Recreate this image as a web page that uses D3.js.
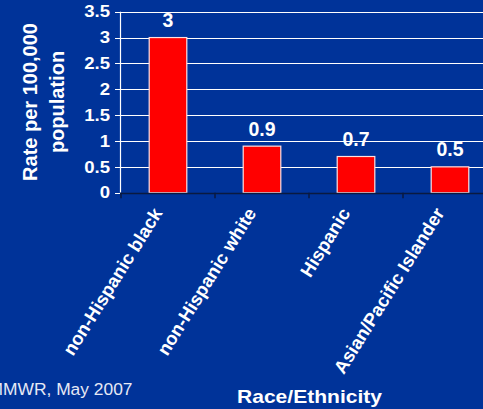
<!DOCTYPE html>
<html>
<head>
<meta charset="utf-8">
<script src="https://cdn.jsdelivr.net/npm/d3@7"></script>
<style>
html,body{margin:0;padding:0;background:#003399;overflow:hidden;}
svg{display:block;font-family:"Liberation Sans",Arial,sans-serif;}
</style>
</head>
<body>
<script>
const categories = ["non-Hispanic black", "non-Hispanic white", "Hispanic", "Asian/Pacific Islander"];
const values = [3, 0.9, 0.7, 0.5];
const valueLabels = ["3", "0.9", "0.7", "0.5"];
const yTicks = [0, 0.5, 1, 1.5, 2, 2.5, 3, 3.5];
const yTickLabels = ["0", "0.5", "1", "1.5", "2", "2.5", "3", "3.5"];
const yTitleLines = ["Rate per 100,000", "population"];
const xTitle = "Race/Ethnicity";
const sourceNote = "MMWR, May 2007";

const W = 483, H = 409;
const svg = d3.select("body").append("svg").attr("width", W).attr("height", H);
svg.append("rect").attr("width", W).attr("height", H).attr("fill", "#003399");

const x0 = 121, x1 = 497, y0 = 192.7, yTop = 11.7;
const y = d3.scaleLinear().domain([0, 3.5]).range([y0, yTop]);
const x = d3.scaleBand().domain(categories).range([x0, x1]).paddingInner(0.6).paddingOuter(0.3);
const xb = d3.scaleBand().domain(categories).range([x0, x1]).padding(0);

// gridlines + y ticks
svg.append("g").selectAll("line").data(yTicks.filter(d => d > 0)).join("line")
  .attr("x1", x0 - 6).attr("x2", W)
  .attr("y1", d => Math.round(y(d)) + 0.5).attr("y2", d => Math.round(y(d)) + 0.5)
  .attr("stroke", "#ffffff").attr("stroke-width", 1);
svg.append("line").attr("x1", x0 - 6).attr("x2", x0).attr("y1", Math.round(y0) + 0.5).attr("y2", Math.round(y0) + 0.5)
  .attr("stroke", "#ffffff");

// y axis line
svg.append("line").attr("x1", x0 - 0.5).attr("x2", x0 - 0.5).attr("y1", y(3.5)).attr("y2", y0)
  .attr("stroke", "#ffffff").attr("stroke-width", 1.2);

// bars
svg.append("g").selectAll("rect").data(values).join("rect")
  .attr("x", (d, i) => x(categories[i]))
  .attr("width", x.bandwidth())
  .attr("y", d => y(d))
  .attr("height", d => y0 - y(d))
  .attr("fill", "#ff0000")
  .attr("stroke", "#ffe0e0").attr("stroke-width", 1.2);

// x axis line and ticks
svg.append("line").attr("x1", x0 - 1).attr("x2", W).attr("y1", Math.round(y0) + 0.5).attr("y2", Math.round(y0) + 0.5)
  .attr("stroke", "#0a1a40").attr("stroke-width", 1.5);
const bounds = categories.map(c => xb(c));
svg.append("g").selectAll("line").data(bounds).join("line")
  .attr("x1", d => d).attr("x2", d => d)
  .attr("y1", y0).attr("y2", y0 + 5.5)
  .attr("stroke", "#0a1a40").attr("stroke-width", 1.5);

// y tick labels
svg.append("g").selectAll("text").data(yTicks).join("text")
  .attr("transform", d => `translate(110,${y(d)}) scale(1.16,1)`)
  .attr("dy", "0.36em")
  .attr("text-anchor", "end")
  .attr("fill", "#ffffff").attr("font-weight", "bold").attr("font-size", 16)
  .text((d, i) => yTickLabels[i]);

// value labels
svg.append("g").selectAll("text").data(values).join("text")
  .attr("x", (d, i) => x(categories[i]) + x.bandwidth() / 2)
  .attr("y", d => y(d) - 10.5)
  .attr("text-anchor", "middle")
  .attr("fill", "#ffffff").attr("font-weight", "bold").attr("font-size", 19.5)
  .text((d, i) => valueLabels[i]);

// category labels
svg.append("g").selectAll("text").data(categories).join("text")
  .attr("transform", d => `translate(${x(d) + x.bandwidth() / 2 - 5},213) rotate(-58)`)
  .attr("text-anchor", "end")
  .attr("fill", "#ffffff").attr("font-weight", "bold").attr("font-size", 18.5)
  .text(d => d);

// y title
const yt = svg.append("g").attr("transform", "translate(0,102)");
yt.selectAll("text").data(yTitleLines).join("text")
  .attr("transform", (d, i) => `translate(${i === 0 ? 36.5 : 64},0) rotate(-90)`)
  .attr("text-anchor", "middle")
  .attr("fill", "#ffffff").attr("font-weight", "bold").attr("font-size", 20)
  .text(d => d);

// x title
svg.append("text")
  .attr("transform", "translate(309.5,403) scale(1.17,1)")
  .attr("text-anchor", "middle")
  .attr("fill", "#ffffff").attr("font-weight", "bold").attr("font-size", 18)
  .text(xTitle);

// source note
svg.append("text")
  .attr("x", 132.5).attr("y", 395)
  .attr("text-anchor", "end")
  .attr("fill", "#e6e9f5").attr("font-size", 17.4)
  .text(sourceNote);
</script>
</body>
</html>
